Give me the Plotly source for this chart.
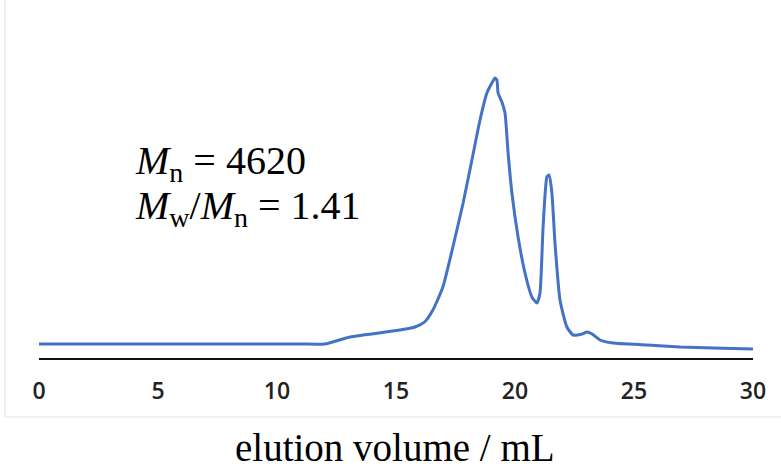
import plotly.graph_objects as go

# elution volume (mL) and detector response (arbitrary units)
elution_ml = [0.0, 4.0, 8.0, 11.0, 12.0, 13.07, 15.17, 15.8, 16.2, 16.55, 16.97, 17.39, 17.82,
              18.19, 18.53, 18.82, 19.03, 19.16, 19.24, 19.29, 19.45, 19.58, 19.71,
              19.87, 20.13, 20.42, 20.71, 20.92, 21.05, 21.18, 21.34, 21.43, 21.55,
              21.68, 21.89, 22.18, 22.44, 22.82, 23.03, 23.24, 23.57, 24.12, 25.55,
              26.93, 28.32, 30.0]
response = [14, 14, 14, 14, 14, 21, 28, 31, 36, 48, 71, 111, 155,
            198, 238, 265, 275, 280, 278, 265, 256, 245, 205,
            165, 121, 85, 61, 55, 65, 131, 181, 183, 165,
            115, 58, 31, 23, 24, 26, 24, 18, 15, 13,
            11, 10, 9]
tick_vals = [0, 5, 10, 15, 20, 25, 30]
tick_text = ["0", "5", "10", "15", "20", "25", "30"]
x_title = "elution volume / mL"
label_mn = "<i>M</i><sub>n</sub> = 4620"
label_pdi = "<i>M</i><sub>w</sub>/<i>M</i><sub>n</sub> = 1.41"

fig = go.Figure()
fig.add_trace(go.Scatter(
    x=elution_ml, y=response, mode="lines",
    line=dict(color="#4472C4", width=3, shape="spline", smoothing=0.5),
    hoverinfo="skip", showlegend=False,
))

fig.update_layout(
    width=781, height=468,
    margin=dict(l=39, r=28, t=58, b=110),
    paper_bgcolor="white", plot_bgcolor="white",
    xaxis=dict(
        range=[0, 30], tickvals=tick_vals, ticktext=tick_text,
        showgrid=False, zeroline=False, showline=True,
        linecolor="#111111", linewidth=1.5, ticks="",
        ticklabelstandoff=12,
        tickfont=dict(family="Open Sans", size=23, color="#222222", weight=600),
    ),
    yaxis=dict(range=[0, 300], visible=False),
    annotations=[
        dict(text=label_mn, x=(133 - 39) / 714, y=(358 - 163) / 300,
             xref="paper", yref="paper", xanchor="left", yanchor="middle",
             showarrow=False, font=dict(family="Liberation Serif", size=40, color="black")),
        dict(text=label_pdi, x=(133 - 39) / 714, y=(358 - 208) / 300,
             xref="paper", yref="paper", xanchor="left", yanchor="middle",
             showarrow=False, font=dict(family="Liberation Serif", size=40, color="black")),
        dict(text=x_title, x=(394.5 - 39) / 714, y=(358 - 447) / 300,
             xref="paper", yref="paper", xanchor="center", yanchor="middle",
             showarrow=False, font=dict(family="Liberation Serif", size=39, color="black")),
    ],
    shapes=[
        dict(type="line", xref="paper", yref="paper",
             x0=(5 - 39) / 714, x1=(5 - 39) / 714, y0=(358 - 417) / 300, y1=358 / 300,
             line=dict(color="#e3e3e3", width=1)),
        dict(type="line", xref="paper", yref="paper",
             x0=(5 - 39) / 714, x1=(781 - 39) / 714, y0=(358 - 417) / 300, y1=(358 - 417) / 300,
             line=dict(color="#e3e3e3", width=1)),
    ],
)

fig.write_html("out.html", config={"displayModeBar": False},
               post_script="document.body.style.margin='0';document.body.style.overflow='hidden';")
